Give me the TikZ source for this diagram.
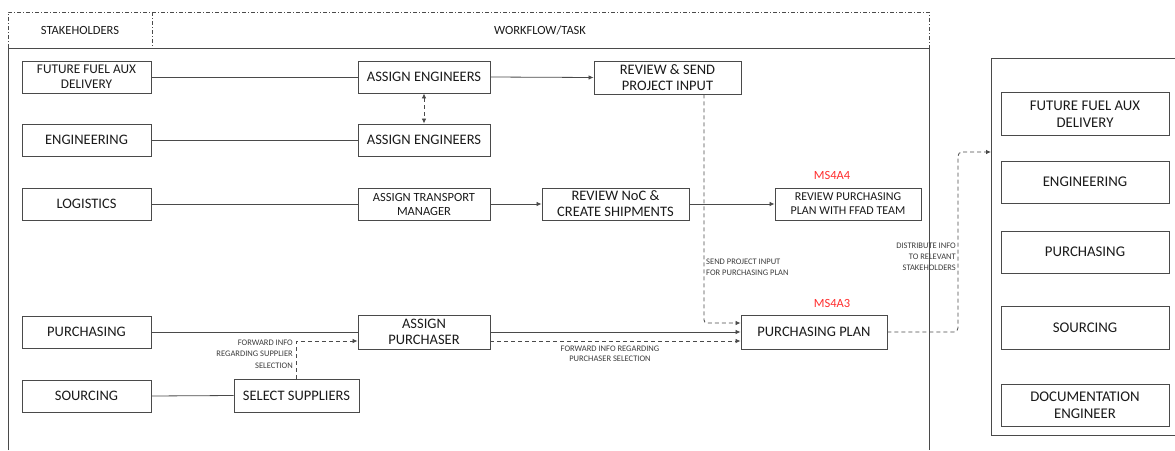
\documentclass[tikz,border=0pt]{standalone}
\usepackage{fontspec}
\setmainfont{Carlito}
\usetikzlibrary{arrows.meta,calc}
\definecolor{ln}{HTML}{4A4A4A}
\definecolor{tx}{HTML}{1A1A1A}
\definecolor{ms}{HTML}{FF2E2E}
\tikzset{
  box/.style={draw=ln,line width=0.9pt,rectangle,align=center,inner sep=1pt,text=tx,font=\fontsize{14.5}{16}\selectfont},
  smallbox/.style={box,font=\fontsize{12}{14}\selectfont},
  rbox/.style={box,minimum width=168pt,font=\fontsize{14.8}{17}\selectfont},
  conn/.style={draw=ln,line width=0.8pt},
  arr/.style={conn,-{Latex[length=5pt,width=4.5pt]}},
  darr/.style={arr,dash pattern=on 4pt off 3pt},
  lbl/.style={font=\fontsize{8.5}{11}\selectfont,text=tx!85,inner sep=0pt},
  hdr/.style={font=\fontsize{12.5}{14}\selectfont,text=tx},
  mslbl/.style={font=\fontsize{12.5}{14}\selectfont,text=ms},
  dashdot/.style={draw=ln,line width=0.7pt,dash pattern=on 4pt off 2pt on 1pt off 2pt}
}
\begin{document}
\begin{tikzpicture}[x=1pt,y=-1pt]
\useasboundingbox (0,0) rectangle (1175,450);
% header
\draw[dashdot] (8,48) -- (8,12) -- (929,12) -- (929,48);
\draw[dashdot] (152,12) -- (152,48);
\node[hdr] (hs) at (80,30) {STAKEHOLDERS};
\node[hdr] (hw) at (540,30) {WORKFLOW/TASK};
% main frame
\draw[ln,line width=0.9pt] (8,450) -- (8,48) -- (929,48) -- (929,450);
% right panel
\draw[ln,line width=0.9pt] (1180,58) -- (991,58) -- (991,435) -- (1180,435);
\coordinate (rpin) at (991,152);
% stakeholders
\node[box,font=\fontsize{13.3}{15}\selectfont,minimum width=129pt,minimum height=32pt] (s1) at (86.5,77) {FUTURE FUEL AUX\\DELIVERY};
\node[box,minimum width=129pt,minimum height=32pt] (s2) at (86.5,140) {ENGINEERING};
\node[box,minimum width=129pt,minimum height=32pt] (s3) at (86.5,204) {LOGISTICS};
\node[box,minimum width=129pt,minimum height=32pt] (s4) at (86.5,332) {PURCHASING};
\node[box,minimum width=129pt,minimum height=32pt] (s5) at (86.5,396) {SOURCING};
% tasks
\node[box,minimum width=132pt,minimum height=32pt] (ae1) at (424,77) {ASSIGN ENGINEERS};
\node[box,minimum width=132pt,minimum height=32pt] (ae2) at (424,140) {ASSIGN ENGINEERS};
\node[box,font=\fontsize{12.5}{14}\selectfont,minimum width=132pt,minimum height=32pt] (atm) at (424,204) {ASSIGN TRANSPORT\\MANAGER};
\node[box,minimum width=132pt,minimum height=34pt] (ap) at (424,332) {ASSIGN\\PURCHASER};
\node[box,minimum width=125pt,minimum height=33pt] (ss) at (296.5,395.5) {SELECT SUPPLIERS};
\node[box,minimum width=147pt,minimum height=33pt] (rs) at (667.5,77.5) {REVIEW \& SEND\\PROJECT INPUT};
\node[box,minimum width=147pt,minimum height=32pt] (rn) at (615.5,204) {REVIEW NoC \&\\CREATE SHIPMENTS};
\node[smallbox,minimum width=146pt,minimum height=32pt] (rp) at (848,204) {REVIEW PURCHASING\\PLAN WITH FFAD TEAM};
\node[box,minimum width=146pt,minimum height=34pt] (pp) at (814,332) {PURCHASING PLAN};
\node[mslbl] (m4) at (832,175) {MS4A4};
\node[mslbl] (m3) at (832,303) {MS4A3};
% right panel boxes
\node[rbox,minimum height=43pt] (r1) at (1085,114) {FUTURE FUEL AUX\\DELIVERY};
\node[rbox,minimum height=42pt] (r2) at (1085,182) {ENGINEERING};
\node[rbox,minimum height=42pt] (r3) at (1085,252) {PURCHASING};
\node[rbox,minimum height=43pt] (r4) at (1085,328) {SOURCING};
\node[rbox,minimum height=42pt] (r5) at (1085,405) {DOCUMENTATION\\ENGINEER};
% connectors
\draw[conn] (s1.east) -- (ae1.west);
\draw[conn] (s2.east) -- (ae2.west);
\draw[conn] (s3.east) -- (atm.west);
\draw[conn] (s4.east) -- (ap.west);
\draw[conn] (s5.east) -- (ss.west);
\draw[arr] (ae1.east) -- (rs.west);
\draw[darr,{Latex[length=5pt,width=4.5pt]}-{Latex[length=5pt,width=4.5pt]}] (ae1.south) -- (ae2.north);
\draw[arr] (atm.east) -- (rn.west);
\draw[arr] (rn.east) -- (rp.west);
\draw[arr] (ap.east) -- (pp.west);
\draw[darr] (ss.north) |- ($(ap.west)+(0,9)$);
\draw[darr] ($(ap.east)+(0,9)$) -- ($(pp.west)+(0,9)$);
\draw[darr,rounded corners=3pt] ($(rs.south)+(36.5,0)$) |- ($(pp.west)+(0,-9)$);
\draw[darr,rounded corners=4pt] (pp.east) -| (958,152) -- (rpin);
% labels
\node[lbl,anchor=west,align=left] (l1) at (706,267.5) {SEND PROJECT INPUT\\FOR PURCHASING PLAN};
\node[lbl,anchor=east,align=right] (l2) at (956,257) {DISTRIBUTE INFO\\TO RELEVANT\\STAKEHOLDERS};
\node[lbl,anchor=east,align=right,font=\fontsize{8.5}{11.5}\selectfont] (l3) at (293,354) {FORWARD INFO\\REGARDING SUPPLIER\\SELECTION};
\node[lbl,align=center,font=\fontsize{8.5}{10}\selectfont] (l4) at (610,354) {FORWARD INFO REGARDING\\PURCHASER SELECTION};
\end{tikzpicture}
\end{document}
